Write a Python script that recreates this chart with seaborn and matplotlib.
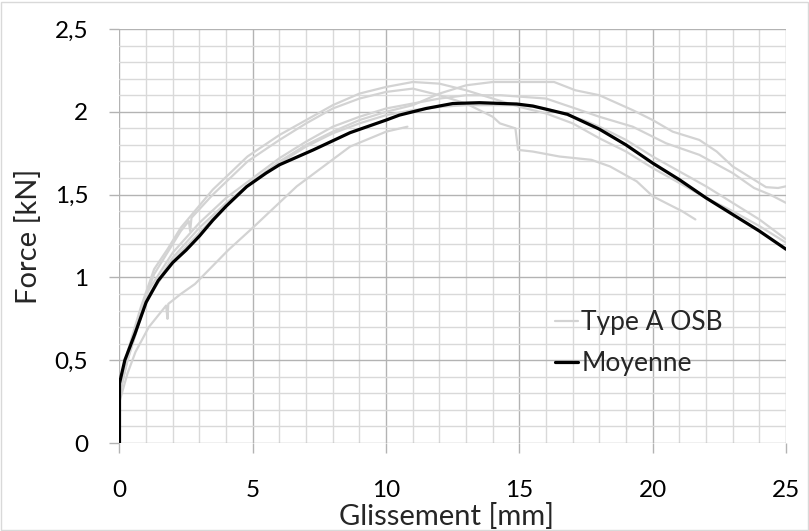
import matplotlib
matplotlib.use("Agg")
import matplotlib.pyplot as plt
from matplotlib.ticker import MultipleLocator, FuncFormatter
from matplotlib.patches import Rectangle
import seaborn as sns
import pandas as pd

# ---- data ----
osb1_x = [0, 0, 0.3, 0.8, 1.3, 1.8, 2.3, 3.5, 4.8, 6, 7, 8, 9, 10, 11, 12, 13, 14, 15, 16, 17, 18, 19, 20, 21, 22, 23, 24, 25]
osb1_y = [0, 0.3, 0.55, 0.82, 1.05, 1.17, 1.3, 1.53, 1.73, 1.86, 1.95, 2.04, 2.11, 2.15, 2.18, 2.17, 2.13, 2.08, 2.03, 1.99, 1.93, 1.84, 1.76, 1.66, 1.57, 1.48, 1.40, 1.31, 1.21]

osb2_x = [0, 0, 0.3, 0.8, 1.3, 1.8, 2.3, 2.6, 2.65, 2.7, 3.5, 4.8, 6, 7, 8, 9, 10, 11, 12, 13, 14, 14.27, 14.85, 14.95, 15.5, 16.5, 17.7, 18.4, 19.4, 20, 21.1, 21.6]
osb2_y = [0, 0.28, 0.52, 0.8, 1.02, 1.15, 1.28, 1.34, 1.28, 1.36, 1.5, 1.70, 1.83, 1.93, 2.02, 2.08, 2.12, 2.14, 2.10, 2.05, 1.97, 1.93, 1.90, 1.77, 1.76, 1.73, 1.71, 1.67, 1.58, 1.49, 1.40, 1.35]

osb3_x = [0, 0, 0.3, 1, 2, 3, 4, 5, 6, 7, 8, 9, 10, 11, 12, 13, 14, 16.3, 17.1, 18, 19.25, 20, 20.75, 21.75, 22.4, 23, 23.6, 24.25, 24.7, 25]
osb3_y = [0, 0.3, 0.5, 0.87, 1.12, 1.3, 1.45, 1.58, 1.70, 1.80, 1.88, 1.95, 2.0, 2.04, 2.11, 2.16, 2.18, 2.18, 2.13, 2.10, 2.01, 1.95, 1.88, 1.83, 1.76, 1.67, 1.61, 1.545, 1.54, 1.55]

osb4_x = [0, 0, 0.3, 1, 2, 3, 4, 5, 6, 7, 8, 9, 10, 11, 12, 13, 14.3, 16, 17.1, 18, 19.25, 20.5, 21.75, 23, 23.8, 24.4, 25]
osb4_y = [0, 0.3, 0.52, 0.9, 1.15, 1.33, 1.48, 1.6, 1.72, 1.82, 1.91, 1.97, 2.02, 2.05, 2.08, 2.10, 2.10, 2.08, 2.02, 1.97, 1.91, 1.81, 1.74, 1.63, 1.54, 1.50, 1.45]

osb5_x = [0, 0, 0.3, 1, 2, 3, 4, 5, 6, 7, 8, 9, 10, 11, 12, 13, 14, 15, 16, 17.4, 18, 19, 20, 21, 22, 22.6, 24, 25]
osb5_y = [0, 0.3, 0.5, 0.86, 1.1, 1.27, 1.44, 1.58, 1.69, 1.79, 1.87, 1.93, 1.98, 2.01, 2.03, 2.04, 2.04, 2.04, 2.02, 1.95, 1.91, 1.83, 1.73, 1.64, 1.55, 1.49, 1.35, 1.23]

osb6_x = [0, 0, 0.3, 0.6, 1.1, 1.5, 1.75, 1.8, 1.83, 2.3, 2.83, 4.08, 5.0, 6.65, 8.65, 10.0, 10.8]
osb6_y = [0, 0.25, 0.42, 0.55, 0.70, 0.78, 0.83, 0.75, 0.84, 0.90, 0.96, 1.165, 1.30, 1.55, 1.79, 1.88, 1.91]

moy_x = [0, 0, 0.2, 0.58, 1.0, 1.45, 2.0, 2.5, 3.0, 3.5, 4.0, 4.77, 5.5, 6.0, 7.27, 8.65, 10.0, 10.5, 11.5, 12.5, 13.5, 14.9, 15.5, 16.15, 16.8, 17.4, 18.0, 19.0, 20.0, 21.0, 22.0, 23.0, 24.0, 25.0]
moy_y = [0, 0.36, 0.5, 0.66, 0.85, 0.98, 1.09, 1.165, 1.25, 1.345, 1.43, 1.548, 1.63, 1.68, 1.77, 1.874, 1.95, 1.98, 2.02, 2.05, 2.055, 2.047, 2.035, 2.01, 1.985, 1.94, 1.895, 1.80, 1.69, 1.59, 1.48, 1.38, 1.28, 1.17]

osb_series = [(osb1_x, osb1_y), (osb2_x, osb2_y), (osb3_x, osb3_y),
              (osb4_x, osb4_y), (osb5_x, osb5_y), (osb6_x, osb6_y)]

label_osb = "Type A OSB"
label_moy = "Moyenne"
x_title = "Glissement [mm]"
y_title = "Force [kN]"

# ---- style ----
sns.set_style("white")
plt.rcParams['font.family'] = ['Lato', 'DejaVu Sans']

fig = plt.figure(figsize=(8.09, 5.31), dpi=100)
ax = fig.add_axes([0.1477, 0.1657, 0.9716 - 0.1477, 0.9454 - 0.1657])

grey = "#d3d3d3"
for i, (xs, ys) in enumerate(osb_series):
    df = pd.DataFrame({"x": xs, "y": ys})
    sns.lineplot(data=df, x="x", y="y", ax=ax, color=grey, lw=1.6,
                 estimator=None, sort=False, label=label_osb if i == 0 else None,
                 legend=False)

dfm = pd.DataFrame({"x": moy_x, "y": moy_y})
sns.lineplot(data=dfm, x="x", y="y", ax=ax, color="black", lw=2.3,
             estimator=None, sort=False, label=label_moy, legend=False)

ax.set_xlim(0, 25)
ax.set_ylim(0, 2.5)
ax.xaxis.set_major_locator(MultipleLocator(5))
ax.xaxis.set_minor_locator(MultipleLocator(1))
ax.yaxis.set_major_locator(MultipleLocator(0.5))
ax.yaxis.set_minor_locator(MultipleLocator(0.1))
fmt = FuncFormatter(lambda v, p: f"{v:g}".replace('.', ','))
ax.xaxis.set_major_formatter(fmt)
ax.yaxis.set_major_formatter(fmt)

ax.set_axisbelow(True)
ax.grid(which='major', color='#b3b3b3', lw=1.0)
ax.grid(which='minor', color='#d9d9d9', lw=1.0)
for s in ax.spines.values():
    s.set_visible(False)

ax.tick_params(which='major', length=7, width=1.0, color='#b3b3b3',
               direction='out', labelsize=17.5, labelcolor='black')
ax.tick_params(which='minor', length=0)
ax.tick_params(axis='x', bottom=True, pad=19.5)
ax.tick_params(axis='y', left=True, pad=15.5)

ax.set_xlabel(x_title, fontsize=21)
ax.xaxis.set_label_coords(0.49, -0.198)
ax.xaxis.label.set_va('baseline')
ax.set_ylabel(y_title, fontsize=21)
ax.yaxis.set_label_coords(-0.137, 0.5)
ax.yaxis.label.set_va('center')

handles, labels = ax.get_legend_handles_labels()
leg = ax.legend(handles, labels, loc='center left', bbox_to_anchor=(0.6534, 0.2415),
                frameon=False, fontsize=19, handlelength=0.87, handletextpad=0.12,
                labelspacing=0.62, borderpad=0, borderaxespad=0)

fig.add_artist(Rectangle((0.0015, 0.002), 0.997, 0.995, transform=fig.transFigure,
                         fill=False, edgecolor='#d9d9d9', lw=1.0))

fig.savefig("out.png", dpi=100)
